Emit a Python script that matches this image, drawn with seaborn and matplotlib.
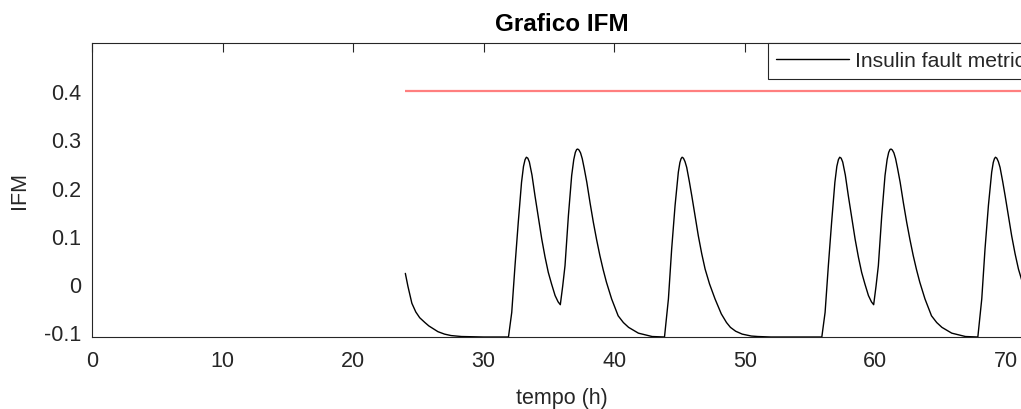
import pandas as pd
import seaborn as sns
import matplotlib.pyplot as plt

# Theme
sns.set_theme(style="white")
plt.rcParams['font.family'] = ['Liberation Sans', 'DejaVu Sans']

# Data (tempo in h, IFM)
tempo_g1 = [24.0, 24.2, 24.5, 24.8, 25.1, 25.5, 25.8, 26.2, 26.5, 27.0, 27.5, 28.3,
            30.0, 31.9, 32.15, 32.4, 32.65, 32.9, 33.05, 33.17, 33.27, 33.38, 33.5,
            33.7, 33.93, 34.2, 34.45, 34.7, 34.95, 35.2, 35.47, 35.7, 35.87, 36.05,
            36.23, 36.49, 36.74, 36.9, 37.02, 37.12, 37.2, 37.3, 37.42, 37.55, 37.7,
            37.9, 38.15, 38.4, 38.65, 38.9, 39.15, 39.4, 39.8, 40.3, 40.7, 41.1,
            41.85, 42.9, 43.85, 44.15, 44.4, 44.66, 44.91, 45.03, 45.12, 45.2, 45.3,
            45.42, 45.55, 45.75, 45.94, 46.2, 46.44, 46.7, 46.96, 47.3, 47.72, 48.2,
            48.6, 48.9, 49.3, 49.8, 50.5, 51.0, 52.0]
ifm_g1 = [0.022, -0.005, -0.040, -0.058, -0.070, -0.080, -0.087, -0.094, -0.099,
          -0.104, -0.107, -0.109, -0.110, -0.110, -0.059, 0.038, 0.128, 0.211,
          0.244, 0.258, 0.263, 0.261, 0.253, 0.226, 0.183, 0.137, 0.093, 0.056,
          0.024, 0.000, -0.024, -0.037, -0.043, -0.005, 0.038, 0.142, 0.225, 0.258,
          0.273, 0.279, 0.280, 0.278, 0.272, 0.260, 0.240, 0.211, 0.168, 0.128,
          0.092, 0.059, 0.030, 0.004, -0.031, -0.066, -0.080, -0.090, -0.102,
          -0.109, -0.110, -0.031, 0.073, 0.163, 0.232, 0.252, 0.260, 0.263, 0.261,
          0.254, 0.242, 0.213, 0.183, 0.140, 0.100, 0.063, 0.031, 0.000, -0.031,
          -0.062, -0.080, -0.090, -0.098, -0.104, -0.108, -0.109, -0.110]

tempo_g2 = [55.9, 56.15, 56.4, 56.65, 56.9, 57.05, 57.17, 57.27, 57.38, 57.5, 57.7,
            57.93, 58.2, 58.45, 58.7, 58.95, 59.2, 59.47, 59.7, 59.87, 60.05, 60.23,
            60.49, 60.74, 60.9, 61.02, 61.12, 61.2, 61.3, 61.42, 61.55, 61.7, 61.9,
            62.15, 62.4, 62.65, 62.9, 63.15, 63.4, 63.8, 64.3, 64.7, 65.1, 65.85,
            66.9, 67.85, 68.15, 68.4, 68.66, 68.91, 69.03, 69.12, 69.2, 69.3, 69.42,
            69.55, 69.75, 69.94, 70.2, 70.44, 70.7, 70.96, 71.3, 71.72, 72.0]
ifm_g2 = [-0.110, -0.059, 0.038, 0.128, 0.211, 0.244, 0.258, 0.263, 0.261, 0.253,
          0.226, 0.183, 0.137, 0.093, 0.056, 0.024, 0.000, -0.024, -0.037, -0.043,
          -0.005, 0.038, 0.142, 0.225, 0.258, 0.273, 0.279, 0.280, 0.278, 0.272,
          0.260, 0.240, 0.211, 0.168, 0.128, 0.092, 0.059, 0.030, 0.004, -0.031,
          -0.066, -0.080, -0.090, -0.102, -0.109, -0.110, -0.031, 0.073, 0.163,
          0.232, 0.252, 0.260, 0.263, 0.261, 0.254, 0.242, 0.213, 0.183, 0.140,
          0.100, 0.063, 0.031, 0.000, -0.031, -0.050]

soglia = 0.4
soglia_inizio = 24
soglia_fine = 72

x_ticks = [0, 10, 20, 30, 40, 50, 60, 70]
y_ticks = [-0.1, 0, 0.1, 0.2, 0.3, 0.4]
y_tick_labels = ['-0.1', '0', '0.1', '0.2', '0.3', '0.4']

df = pd.DataFrame({'tempo': tempo_g1 + tempo_g2, 'IFM': ifm_g1 + ifm_g2})

# ------------------ PLOT ------------------
fig = plt.figure(figsize=(10.21, 4.10), dpi=100)
ax = fig.add_axes([0.0901, 0.1756, 0.9207, 0.7171])

ax.hlines(soglia, soglia_inizio, soglia_fine, color='#ff7f7f', linewidth=1.6, zorder=2)
sns.lineplot(ax=ax, x='tempo', y='IFM', data=df, sort=False, color='black',
             linewidth=1.0, label='Insulin fault metric', zorder=3)

ax.set_xlim(0, 72)
ax.set_ylim(-0.11, 0.5)
ax.set_xticks(x_ticks)
ax.set_yticks(y_ticks)
ax.set_yticklabels(y_tick_labels)

grey = '#262626'
for s in ax.spines.values():
    s.set_visible(True)
    s.set_color(grey)
    s.set_linewidth(0.8)
ax.tick_params(direction='in', length=6.5, width=0.8, colors=grey, labelsize=15.5,
               top=True, right=True, pad=8)
ax.tick_params(axis='x', pad=9)

ax.set_xlabel('tempo (h)', fontsize=15.5, color=grey, labelpad=12)
ax.set_ylabel('IFM', fontsize=15.5, color=grey, labelpad=10)
ax.set_title('Grafico IFM', fontsize=17.5, fontweight='bold', color='black', pad=9)

# legend box sits on the top spine and runs past the right edge, as in the original
leg = ax.legend(loc='upper left', bbox_to_anchor=(0.719, 1.0), borderaxespad=0,
                fontsize=15.2, frameon=True, fancybox=False, framealpha=1,
                handlelength=3.45, handletextpad=0.3, borderpad=0.4)
leg.get_frame().set_edgecolor(grey)
leg.get_frame().set_linewidth(0.8)
leg.get_lines()[0].set_linewidth(1.0)

fig.savefig('out.png', dpi=100)
